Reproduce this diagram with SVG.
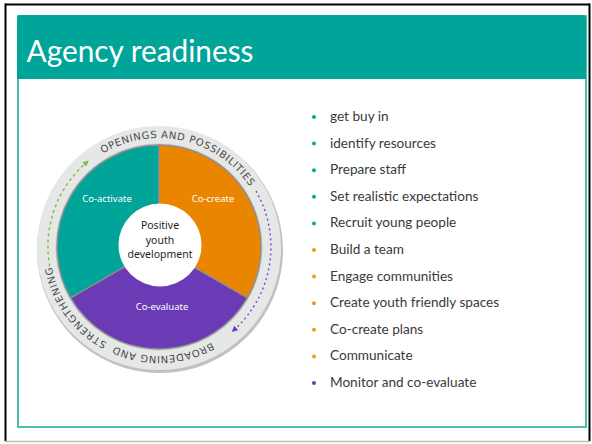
<svg xmlns="http://www.w3.org/2000/svg" width="592" height="444" viewBox="0 0 592 444">
  <style>
    .item { font-family: Lato, "Liberation Sans", sans-serif; font-size: 13.6px; fill: #3a3a3a; }
    .seg-label { font-family: "Noto Sans", "DejaVu Sans", sans-serif; font-size: 9.5px; fill: #ffffff; text-anchor: middle; }
    .center-label { font-family: "Noto Sans", "DejaVu Sans", sans-serif; font-size: 10.5px; fill: #1e1e1e; text-anchor: middle; }
    .ring-text { font-family: "DejaVu Sans", "Noto Sans", sans-serif; font-size: 10px; fill: #4a4a4a; }
    .seg { stroke: #8e8e8e; stroke-width: 1.4; }
  </style>
  <defs>
    <path id="ringPath" d="M50,247 A109,109 0 0 1 268,247 A109,109 0 0 1 50,247"/>
    <marker id="arrowGreen" viewBox="0 0 10 10" refX="5" refY="5" markerWidth="6" markerHeight="6" orient="auto" markerUnits="userSpaceOnUse">
      <path d="M0,0 L10,5 L0,10 Z" fill="#7dc242"/>
    </marker>
    <marker id="arrowPurple" viewBox="0 0 10 10" refX="5" refY="5" markerWidth="6" markerHeight="6" orient="auto" markerUnits="userSpaceOnUse">
      <path d="M0,0 L10,5 L0,10 Z" fill="#6a3bb4"/>
    </marker>
  </defs>

  <rect x="0" y="0" width="592" height="444" fill="#ffffff"/>
  <!-- outer slide border -->
  <line x1="5" y1="4.5" x2="590" y2="4.5" stroke="#000" stroke-width="2"/>
  <line x1="5.5" y1="3.5" x2="5.5" y2="441" stroke="#000" stroke-width="2"/>
  <line x1="589.5" y1="3.5" x2="589.5" y2="441" stroke="#000" stroke-width="2"/>
  <line x1="5" y1="441.5" x2="590" y2="441.5" stroke="#bdbdbd" stroke-width="1.5"/>

  <!-- content frame -->
  <rect id="frame" x="18" y="16" width="568" height="411" fill="#ffffff" stroke="#4dbdb2" stroke-width="2"/>
  <g id="header">
    <path d="M17,79 L17,19 Q17,15 21,15 L582,15 Q586,15 586,19 L586,79 Z" fill="#00a499"/>
    <text x="26.5" y="62" font-family="Lato, 'Liberation Sans', sans-serif" font-size="31" fill="#ffffff" textLength="227" lengthAdjust="spacingAndGlyphs">Agency readiness</text>
  </g>

  <!-- wheel -->
  <g id="wheel-ring">
    <circle cx="160" cy="250" r="123" fill="#bfc2c2"/>
    <circle cx="159" cy="248" r="122" fill="#e6e8e8"/>
    <circle cx="159" cy="247" r="103.5" fill="#c9cbcb"/>
  </g>
  <g id="co-activate">
    <path class="seg" d="M159,247 L70.7,298 A102,102 0 0 1 159,145 Z" fill="#00a499"/>
    <text class="seg-label" x="107" y="202">Co-activate</text>
  </g>
  <g id="co-create">
    <path class="seg" d="M159,247 L159,145 A102,102 0 0 1 247.3,298 Z" fill="#ea8500"/>
    <text class="seg-label" x="213" y="202">Co-create</text>
  </g>
  <g id="co-evaluate">
    <path class="seg" d="M159,247 L247.3,298 A102,102 0 0 1 70.7,298 Z" fill="#6a3bb4"/>
    <text class="seg-label" x="162" y="310">Co-evaluate</text>
  </g>
  <g id="positive-youth-development">
    <circle cx="160" cy="245" r="41.5" fill="#ffffff"/>
    <text class="center-label" x="160" y="229">Positive</text>
    <text class="center-label" x="160" y="244">youth</text>
    <text class="center-label" x="160" y="258">development</text>
  </g>
  <g id="ring-labels">
    <text class="ring-text"><textPath href="#ringPath" startOffset="112" textLength="166" lengthAdjust="spacing">OPENINGS AND POSSIBILITIES</textPath></text>
    <text class="ring-text"><textPath href="#ringPath" startOffset="458" textLength="101" lengthAdjust="spacing">BROADENING AND</textPath></text>
    <text class="ring-text"><textPath href="#ringPath" startOffset="567" textLength="97" lengthAdjust="spacing">STRENGTHENING</textPath></text>
  </g>

  <g id="connectors">
    <path d="M49.7,266.3 A111,111 0 0 1 86.5,162.5" fill="none" stroke="#7dc242" stroke-width="1.5" stroke-dasharray="3 3" marker-end="url(#arrowGreen)"/>
    <path d="M256,191 A112,112 0 0 1 234,330" fill="none" stroke="#7b52c9" stroke-width="1.5" stroke-dasharray="2 3" marker-end="url(#arrowPurple)"/>
  </g>

  <!-- bullet list -->
  <g id="list">
    <g fill="#00a99d">
      <circle cx="314" cy="117" r="2"/>
      <circle cx="314" cy="143.6" r="2"/>
      <circle cx="314" cy="170.2" r="2"/>
      <circle cx="314" cy="196.8" r="2"/>
      <circle cx="314" cy="223.4" r="2"/>
    </g>
    <g fill="#f7941d">
      <circle cx="314" cy="250" r="2"/>
      <circle cx="314" cy="276.6" r="2"/>
      <circle cx="314" cy="303.2" r="2"/>
      <circle cx="314" cy="329.8" r="2"/>
      <circle cx="314" cy="356.4" r="2"/>
    </g>
    <circle cx="314" cy="383" r="2" fill="#6a3bb4"/>
    <text class="item" x="330" y="121">get buy in</text>
    <text class="item" x="330" y="147.6">identify resources</text>
    <text class="item" x="330" y="174.2">Prepare staff</text>
    <text class="item" x="330" y="200.8">Set realistic expectations</text>
    <text class="item" x="330" y="227.4">Recruit young people</text>
    <text class="item" x="330" y="254">Build a team</text>
    <text class="item" x="330" y="280.6">Engage communities</text>
    <text class="item" x="330" y="307.2">Create youth friendly spaces</text>
    <text class="item" x="330" y="333.8">Co-create plans</text>
    <text class="item" x="330" y="360.4">Communicate</text>
    <text class="item" x="330" y="387">Monitor and co-evaluate</text>
  </g>
</svg>
